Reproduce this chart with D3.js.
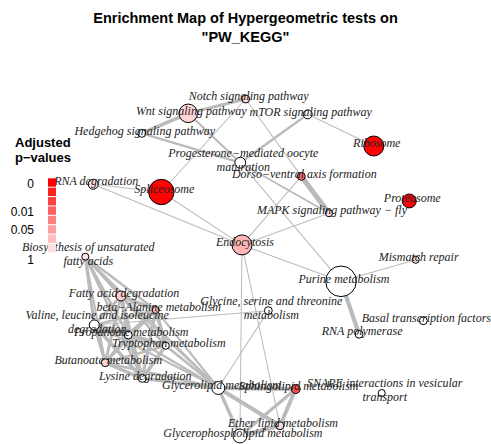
<!DOCTYPE html>
<html>
<head>
<meta charset="utf-8">
<script src="https://cdnjs.cloudflare.com/ajax/libs/d3/7.8.5/d3.min.js"></script>
<style>
body { margin: 0; background: #fff; }
</style>
</head>
<body>
<svg></svg>
<script>
var width = 491, height = 444;

// gene sets (nodes), layout coordinates in [-1, 1]
var nodeNames = [
  "Notch signaling pathway",                          // 0
  "Wnt signaling pathway",                            // 1
  "mTOR signaling pathway",                           // 2
  "Hedgehog signaling pathway",                       // 3
  "Progesterone\u2212mediated oocyte\nmaturation",    // 4
  "Dorso\u2212ventral axis formation",                // 5
  "Spliceosome",                                      // 6
  "RNA degradation",                                  // 7
  "Ribosome",                                         // 8
  "Proteasome",                                       // 9
  "MAPK signaling pathway \u2212 fly",                // 10
  "Endocytosis",                                      // 11
  "Mismatch repair",                                  // 12
  "Biosynthesis of unsaturated\nfatty acids",         // 13
  "Purine metabolism",                                // 14
  "Fatty acid degradation",                           // 15
  "beta\u2212Alanine metabolism",                     // 16
  "Glycine, serine and threonine\nmetabolism",        // 17
  "Basal transcription factors",                      // 18
  "Valine, leucine and isoleucine\ndegradation",      // 19
  "Propanoate metabolism",                            // 20
  "RNA polymerase",                                   // 21
  "Tryptophan metabolism",                            // 22
  "Butanoate metabolism",                             // 23
  "Lysine degradation",                               // 24
  "Glycerolipid metabolism",                          // 25
  "Sphingolipid metabolism",                          // 26
  "SNARE interactions in vesicular\ntransport",       // 27
  "Ether lipid metabolism",                           // 28
  "Glycerophospholipid metabolism"                    // 29
];
var nodeX = [-0.051, -0.391, 0.316, -0.666, -0.083, 0.278, -0.550, -0.953, 0.707, 0.917,
             0.442, -0.073, 0.955, -1.000, 0.513, -0.789, -0.583, 0.083, 1.000, -0.947,
             -0.746, 0.620, -0.524, -0.882, -0.663, -0.213, 0.245, 0.754, 0.152, -0.085];
var nodeY = [1.000, 0.915, 0.909, 0.796, 0.622, 0.541, 0.448, 0.494, 0.721, 0.395,
             0.322, 0.134, 0.046, 0.064, -0.082, -0.169, -0.252, -0.256, -0.316, -0.341,
             -0.401, -0.396, -0.464, -0.565, -0.658, -0.715, -0.721, -0.745, -0.939, -1.000];
var nodeSize = [10, 55, 13, 10, 19, 10, 103, 16, 64, 31,
                8, 64, 8, 8, 150, 16, 8, 10, 10, 16,
                10, 10, 8, 10, 10, 27, 13, 8, 10, 31];
var nodePval = [0.6, 0.6, 1, 1, 1, 0.017, 0.0003, 0.7, 0.0002, 0.0004,
                0.7, 0.3, 0.7, 0.7, 1, 0.55, 0.45, 1, 1, 1,
                1, 1, 1, 0.6, 1, 1, 0.008, 1, 0.7, 1];

// overlap between gene sets: [source, target, similarity]
var edges = [
  [3, 1, 0.6], [1, 0, 0.5], [1, 4, 0.35], [3, 4, 0.4], [2, 4, 0.4], [4, 10, 0.3],
  [5, 10, 0.85], [0, 5, 0.17], [0, 6, 0.17], [2, 8, 0.17], [5, 11, 0.17], [4, 14, 0.17],
  [6, 11, 0.17], [7, 6, 0.17], [7, 11, 0.17], [10, 11, 0.17], [11, 14, 0.17],
  [11, 29, 0.17], [11, 28, 0.17], [14, 21, 0.7], [14, 12, 0.17], [17, 25, 0.17],
  [19, 17, 0.17],
  [25, 26, 0.7], [25, 29, 0.55], [25, 28, 0.65], [26, 28, 0.65], [26, 29, 0.5], [28, 29, 0.7],
  [15, 16, 0.6], [15, 19, 0.5], [15, 20, 0.6], [15, 22, 0.45], [15, 23, 0.5], [15, 24, 0.55],
  [16, 19, 0.45], [16, 20, 0.7], [16, 22, 0.6], [16, 23, 0.4], [16, 24, 0.5],
  [19, 20, 0.75], [19, 22, 0.55], [19, 23, 0.5], [19, 24, 0.6],
  [20, 22, 0.7], [20, 23, 0.55], [20, 24, 0.65],
  [22, 23, 0.45], [22, 24, 0.6], [23, 24, 0.55],
  [13, 15, 0.45], [13, 16, 0.4], [13, 19, 0.5], [13, 20, 0.45], [13, 22, 0.4],
  [13, 23, 0.35], [13, 24, 0.4], [13, 25, 0.3],
  [25, 15, 0.3], [25, 16, 0.35], [25, 19, 0.35], [25, 20, 0.4], [25, 22, 0.45],
  [25, 23, 0.45], [25, 24, 0.55]
];

// legend
var legendTicks = [0, 0.01, 0.05, 1];
var legendTickLabels = ["0", "0.01", "0.05", "1"];
var legendSteps = 8;

var titleLines = ["Enrichment Map of Hypergeometric tests on", "\"PW_KEGG\""];

var svg = d3.select("svg")
    .attr("width", width)
    .attr("height", height);

var x = d3.scaleLinear().domain([-1, 1]).range([85.3, 423.3]);
var y = d3.scaleLinear().domain([1, -1]).range([99, 436]);
var r = d3.scaleSqrt().domain([0, 150]).range([0, 15.3]);
var w = d3.scaleLinear().domain([0, 1]).range([0, 6]);
var color = d3.scaleLinear()
    .domain([0, 0.01, 0.05, 1])
    .range(["#ff0000", "#ff6060", "#ff9a9a", "#ffffff"]);

var nodes = nodeNames.map(function(name, i) {
  return {name: name, x: nodeX[i], y: nodeY[i], size: nodeSize[i], p: nodePval[i]};
});

// title
svg.append("g").selectAll("text")
    .data(titleLines)
    .enter().append("text")
    .attr("x", width / 2)
    .attr("y", function(d, i) { return 23 + i * 19; })
    .attr("text-anchor", "middle")
    .attr("font-family", "Liberation Sans, Arial, sans-serif")
    .attr("font-weight", "bold")
    .attr("font-size", 14.5)
    .attr("fill", "#000")
    .text(function(d) { return d; });

// edges
svg.append("g").selectAll("line")
    .data(edges)
    .enter().append("line")
    .attr("x1", function(d) { return x(nodes[d[0]].x); })
    .attr("y1", function(d) { return y(nodes[d[0]].y); })
    .attr("x2", function(d) { return x(nodes[d[1]].x); })
    .attr("y2", function(d) { return y(nodes[d[1]].y); })
    .attr("stroke", "#bbbbbb")
    .attr("stroke-width", function(d) { return w(d[2]); });

// nodes
svg.append("g").selectAll("circle")
    .data(nodes)
    .enter().append("circle")
    .attr("cx", function(d) { return x(d.x); })
    .attr("cy", function(d) { return y(d.y); })
    .attr("r", function(d) { return r(d.size); })
    .attr("fill", function(d) { return color(d.p); })
    .attr("stroke", "#000")
    .attr("stroke-width", 1);

// labels (drawn over the nodes)
var labels = svg.append("g").selectAll("text")
    .data(nodes)
    .enter().append("text")
    .attr("font-family", "Liberation Serif, Times New Roman, serif")
    .attr("font-style", "italic")
    .attr("font-size", 12)
    .attr("fill", "#222")
    .attr("text-anchor", "middle");

labels.each(function(d) {
  var lines = d.name.split("\n");
  var t = d3.select(this);
  lines.forEach(function(line, j) {
    t.append("tspan")
      .attr("x", x(d.x) + 3)
      .attr("y", y(d.y) - 3 + (j - (lines.length - 1) / 2) * 14)
      .attr("dy", "0.35em")
      .text(line);
  });
});

// legend
var legend = svg.append("g");

legend.selectAll("text.title")
    .data(["Adjusted", "p\u2212values"])
    .enter().append("text")
    .attr("class", "title")
    .attr("x", 15)
    .attr("y", function(d, i) { return 147 + i * 15; })
    .attr("font-family", "Liberation Sans, Arial, sans-serif")
    .attr("font-weight", "bold")
    .attr("font-size", 13)
    .text(function(d) { return d; });

var barTop = 178.3, barBottom = 253.3;
var step = (barBottom - barTop) / legendSteps;
var ramp = d3.interpolateRgb("#ff0000", "#ffffff");

legend.selectAll("rect")
    .data(d3.range(legendSteps))
    .enter().append("rect")
    .attr("x", 48)
    .attr("y", function(i) { return barTop + i * step; })
    .attr("width", 8)
    .attr("height", step - 1)
    .attr("fill", function(i) { return ramp(i / legendSteps); });

var legendY = d3.scaleLinear()
    .domain(legendTicks)
    .range([183.5, 211.5, 229.5, 259.5]);

legend.selectAll("text.tick")
    .data(legendTicks)
    .enter().append("text")
    .attr("class", "tick")
    .attr("x", 34)
    .attr("y", function(d) { return legendY(d); })
    .attr("dy", "0.35em")
    .attr("text-anchor", "end")
    .attr("font-family", "Liberation Sans, Arial, sans-serif")
    .attr("font-size", 12)
    .text(function(d, i) { return legendTickLabels[i]; });
</script>
</body>
</html>
